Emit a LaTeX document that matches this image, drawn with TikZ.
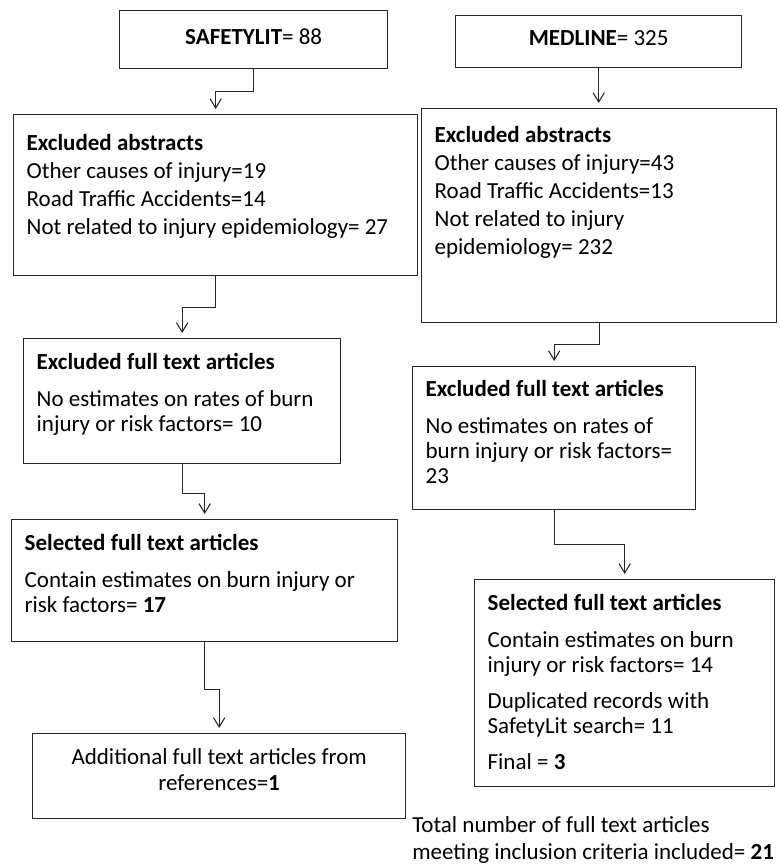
\documentclass[tikz,border=0pt]{standalone}
\usepackage{fontspec}
\setmainfont{Carlito}
\usetikzlibrary{arrows.meta}
\newcommand{\boxfont}[1]{\fontsize{17.25pt}{#1}\selectfont}
\tikzset{
  flowbox/.style={draw=black!85, line width=1pt, anchor=north west, inner xsep=9.75pt, inner ysep=0pt, align=flush left, font=\boxfont{18.75pt}},
  absbox/.style={flowbox, font=\boxfont{21pt}},
  arr/.style={draw=black!85, line width=0.8pt, -{Straight Barb[length=7pt,width=8.5pt]}, shorten >=3.75pt}
}
\begin{document}
\begin{tikzpicture}[x=0.75pt,y=-0.75pt]
\useasboundingbox (0,0) rectangle (779,867);
% sources
\node[flowbox, align=flush center, text width=181.5pt, text height=25.5pt, text depth=18pt] (safety) at (119,10) {\textbf{SAFETYLIT}= 88};
\node[flowbox, align=flush center, text width=195pt, text height=22.5pt, text depth=16.5pt] (medline) at (455,15) {\textbf{MEDLINE}= 325};
% abstracts
\node[absbox, text width=283.5pt, text height=27pt, text depth=93.75pt] (abstractsL) at (13,114) {\textbf{Excluded abstracts}\\Other causes of injury=19\\Road Traffic Accidents=14\\Not related to injury epidemiology= 27};
\node[absbox, text width=246.75pt, text height=25.5pt, text depth=135pt] (abstractsR) at (421,108) {\textbf{Excluded abstracts}\\Other causes of injury=43\\Road Traffic Accidents=13\\Not related to injury\\epidemiology= 232};
% full texts
\node[flowbox, text width=218.25pt, text height=23.25pt, text depth=70.5pt] (fulltextL) at (23,338) {\textbf{Excluded full text articles}\\[9pt]No estimates on rates of burn\\injury or risk factors= 10};
\node[flowbox, text width=192.75pt, text height=22.5pt, text depth=84.75pt] (fulltextR) at (412,366) {\textbf{Excluded full text articles}\\[9pt]No estimates on rates of\\burn injury or risk factors=\\23};
\node[flowbox, text width=270pt, text height=23.25pt, text depth=68.25pt] (selectedL) at (11,519) {\textbf{Selected full text articles}\\[9pt]Contain estimates on burn injury or\\risk factors= \textbf{17}};
\node[flowbox, text width=205.5pt, text height=23.25pt, text depth=132pt] (selectedR) at (474,579) {\textbf{Selected full text articles}\\[9pt]Contain estimates on burn\\injury or risk factors= 14\\[8.25pt]Duplicated records with\\SafetyLit search= 11\\[8.25pt]Final = \textbf{3}};
\node[flowbox, align=flush center, text width=260.25pt, text height=23.25pt, text depth=40.5pt, font=\boxfont{19.5pt}] (additional) at (32,733) {Additional full text articles from\\references=\textbf{1}};
\node[anchor=north west, inner sep=0pt, align=flush left, text width=300pt, text height=12pt, font=\boxfont{20.25pt}] (total) at (412,816) {Total number of full text articles\\meeting inclusion criteria included= \textbf{21}};
% arrows
\draw[arr] (safety.south) -- ++(0,22) -| (abstractsL.north);
\draw[arr] (medline.south) -- (medline.south |- abstractsR.north);
\draw[arr] (abstractsL.south) -- ++(0,31) -| (fulltextL.north);
\draw[arr] (abstractsR.south) -- ++(0,21) -| (fulltextR.north);
\draw[arr] (fulltextL.south) -- ++(0,29) -| (selectedL.north);
\draw[arr] (fulltextR.south) -- ++(0,34) -| (selectedR.north);
\draw[arr] (selectedL.south) -- ++(0,47) -| (additional.north);
\end{tikzpicture}
\end{document}
